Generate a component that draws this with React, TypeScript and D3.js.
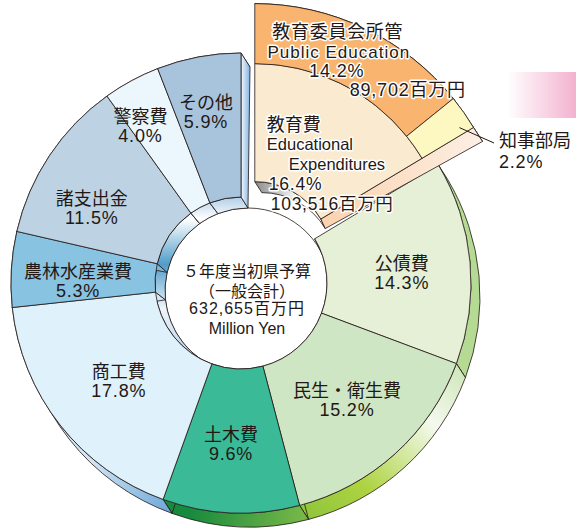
import React from "react";
import * as d3 from "d3";

// ---------- data ----------
const categories = ["教育費", "公債費", "民生・衛生費", "土木費", "商工費", "農林水産業費", "諸支出金", "警察費", "その他"];
const shares = [16.4, 14.3, 15.2, 9.6, 17.8, 5.3, 11.5, 4.0, 5.9];
const eduSubLabels = ["教育委員会所管", "知事部局"];
const eduSubShares = [14.2, 2.2];
const eduSubEnglish = "Public Education";
const eduEnglish = ["Educational", "Expenditures"];
const eduAmount = "103,516百万円";
const eduBoardAmount = "89,702百万円";
const centerLines = ["５年度当初県予算", "（一般会計）", "632,655百万円", "Million Yen"];

// ---------- style / layout ----------
type P = [number, number];
const W = 576, H = 529;
const C: P = [241, 283];
const R_IN = 86, R_OUT = 230;
const D_IN: P = [7, 8];
const D_OUT: P = [9, 14];
const SHRINK_IN = 3;
const EXPLODE = 28;
const E_RIN = 77, E_RMID = 195, E_ROUT = 255;
const INK = "#231815";
const SW = 0.8;

const topColors = ["#faead0", "#e5f0d6", "#cfe6c4", "#3bba98", "#dff1fb", "#88c3e1", "#bdd3e4", "#ebf6fd", "#a8c4dc"];
const rimColors = ["#fcdcc2", "#b4da94", "url(#gMinsei)", "url(#gDoboku)", "url(#gShoko)", "#7fb5d8", "#9fbfd8", "#cfe6f5", "#8fb3d6"];
const subColors = ["#f9b46f", "#fdf8c2"];
const subRimColors = ["#ee9a46", "#efe08c"];
const labelR = [0, 161, 158, 162, 157, 163, 167, 186, 174];
const labelNudgeDeg = [0, 1.8, 0, 1, -0.7, -2.9, -7, -4.3, -1];

const pt = (c: P, r: number, a: number): P => [c[0] + r * Math.sin(a), c[1] - r * Math.cos(a)];
const f = (p: P) => `${p[0].toFixed(2)},${p[1].toFixed(2)}`;
const add = (a: P, b: P): P => [a[0] + b[0], a[1] + b[1]];

function rimPath(c: P, r: number, d: P, rb: number, a0: number, a1: number) {
  const large = a1 - a0 > Math.PI ? 1 : 0;
  const b = add(c, d);
  return `M${f(pt(c, r, a0))}A${r},${r} 0 ${large} 1 ${f(pt(c, r, a1))}L${f(pt(b, rb, a1))}A${rb},${rb} 0 ${large} 0 ${f(pt(b, rb, a0))}Z`;
}
function radialPath(c: P, r0: number, r1: number, a: number) {
  const bi = add(c, D_IN), bo = add(c, D_OUT);
  return `M${f(pt(c, r0, a))}L${f(pt(c, r1, a))}L${f(pt(bo, r1, a))}L${f(pt(bi, r0 - SHRINK_IN, a))}Z`;
}

export default function App() {
  const pie = d3.pie<number>().sort(null).value((d) => d)(shares);
  const arc = d3.arc<any>();
  const ea0 = pie[0].startAngle, ea1 = pie[0].endAngle;
  const emid = (ea0 + ea1) / 2;
  const Ce = pt(C, EXPLODE, emid);
  const span = ea1 - ea0;
  let cum = 0;
  const subs = eduSubShares.map((v, i) => {
    const s0 = ea0 + (cum / shares[0]) * span;
    cum += v;
    const s1 = ea0 + (cum / shares[0]) * span;
    return { s0, s1, i };
  });
  const main = pie.slice(1).map((p, k) => ({ p, i: k + 1 }));

  const lineStart = pt(Ce, E_ROUT - 12, (subs[1].s0 + subs[1].s1) / 2 + 0.04);
  const leaderEnd: P = [494, 143];

  const halo = { stroke: "#fff", strokeWidth: 3, paintOrder: "stroke" as any, strokeLinejoin: "round" as any };

  return (
    <svg width={W} height={H} style={{ position: "fixed", left: 0, top: 0, background: "#fff" }}
      fontFamily="'Liberation Sans','Noto Sans CJK JP',sans-serif">
      <defs>
        <linearGradient id="gHole" gradientUnits="userSpaceOnUse" x1="0" y1="195" x2="0" y2="378">
          <stop offset="0" stopColor="#a9c9e6" />
          <stop offset="0.13" stopColor="#ffffff" />
          <stop offset="0.38" stopColor="#4f9cc9" />
          <stop offset="0.62" stopColor="#eef5fc" />
          <stop offset="1" stopColor="#9fc2e6" />
        </linearGradient>
        <linearGradient id="gSonota" gradientUnits="userSpaceOnUse" x1="241" y1="0" x2="252" y2="0">
          <stop offset="0" stopColor="#f2f8fd" />
          <stop offset="1" stopColor="#6aa2da" />
        </linearGradient>
        <linearGradient id="gMinsei" gradientUnits="userSpaceOnUse" x1="470" y1="340" x2="300" y2="520">
          <stop offset="0" stopColor="#c0e0a4" />
          <stop offset="0.35" stopColor="#f4f9ee" />
          <stop offset="0.72" stopColor="#aed341" />
          <stop offset="1" stopColor="#8cc43a" />
        </linearGradient>
        <linearGradient id="gDoboku" gradientUnits="userSpaceOnUse" x1="305" y1="515" x2="190" y2="505">
          <stop offset="0" stopColor="#78b848" />
          <stop offset="1" stopColor="#188a3e" />
        </linearGradient>
        <linearGradient id="gShoko" gradientUnits="userSpaceOnUse" x1="200" y1="512" x2="90" y2="465">
          <stop offset="0" stopColor="#4f95d2" />
          <stop offset="1" stopColor="#d2e5f4" />
        </linearGradient>
        <linearGradient id="gEduWall" gradientUnits="userSpaceOnUse" x1="255" y1="0" x2="300" y2="0">
          <stop offset="0" stopColor="#8d8d8d" />
          <stop offset="1" stopColor="#ffffff" />
        </linearGradient>
        <linearGradient id="gPeach" gradientUnits="userSpaceOnUse" x1="320" y1="0" x2="475" y2="0">
          <stop offset="0" stopColor="#fbd2ad" />
          <stop offset="1" stopColor="#fdeee2" />
        </linearGradient>
        <linearGradient id="gPink" x1="0" y1="0" x2="1" y2="0">
          <stop offset="0" stopColor="#ffffff" />
          <stop offset="1" stopColor="#f3b2cf" />
        </linearGradient>
      </defs>

      {/* pink band */}
      <rect x={507} y={72} width={69} height={46} fill="url(#gPink)" />

      {/* floor of the hole */}
      <circle cx={C[0] + D_IN[0]} cy={C[1] + D_IN[1]} r={R_IN - SHRINK_IN} fill="#fff" stroke={INK} strokeWidth={SW} />

      {/* main side faces */}
      {main.map(({ p, i }) => (
        <g key={"side" + i} stroke={INK} strokeWidth={SW}>
          <path d={rimPath(C, R_OUT, D_OUT, R_OUT, p.startAngle, p.endAngle)} fill={rimColors[i]} />
          <path d={rimPath(C, R_IN, D_IN, R_IN - SHRINK_IN, p.startAngle, p.endAngle)} fill="url(#gHole)" />
          <path d={radialPath(C, R_IN, R_OUT, p.endAngle)} fill={i === 8 ? "url(#gSonota)" : rimColors[i]} />
        </g>
      ))}

      {/* main top faces */}
      {main.map(({ p, i }) => (
        <path key={"top" + i} transform={`translate(${C[0]},${C[1]})`}
          d={arc({ innerRadius: R_IN, outerRadius: R_OUT, startAngle: p.startAngle, endAngle: p.endAngle }) as string}
          fill={topColors[i]} stroke={INK} strokeWidth={SW} />
      ))}

      {/* exploded education sector: sides */}
      <g stroke={INK} strokeWidth={SW}>
        <path d={rimPath(Ce, E_RIN, D_IN, E_RIN - SHRINK_IN, ea0, ea1)} fill="url(#gEduWall)" />
        {subs.map((s) => (
          <path key={"er" + s.i} d={rimPath(Ce, E_ROUT, D_OUT, E_ROUT, s.s0, s.s1)} fill={subRimColors[s.i]} />
        ))}
        <path d={radialPath(Ce, E_RIN, E_ROUT, ea1)} fill="url(#gPeach)" />
      </g>
      {/* exploded top faces */}
      <g transform={`translate(${Ce[0]},${Ce[1]})`} stroke={INK} strokeWidth={SW}>
        <path d={arc({ innerRadius: E_RIN, outerRadius: E_RMID, startAngle: ea0, endAngle: ea1 }) as string} fill={topColors[0]} />
        {subs.map((s) => (
          <path key={"es" + s.i} d={arc({ innerRadius: E_RMID, outerRadius: E_ROUT, startAngle: s.s0, endAngle: s.s1 }) as string}
            fill={subColors[s.i]} />
        ))}
      </g>

      {/* leader line for 知事部局 */}
      <line x1={lineStart[0]} y1={lineStart[1]} x2={leaderEnd[0]} y2={leaderEnd[1]} stroke={INK} strokeWidth={1} />

      {/* main labels */}
      <g fill={INK} textAnchor="middle" dominantBaseline="central">
        {main.map(({ p, i }) => {
          const a = (p.startAngle + p.endAngle) / 2 + (labelNudgeDeg[i] * Math.PI) / 180;
          const [x, y] = pt(C, labelR[i], a);
          return (
            <g key={"lab" + i}>
              <text x={x} y={y - 9.5} fontSize={18}>{categories[i]}</text>
              <text x={x} y={y + 9.5} fontSize={18} letterSpacing={0.8}>{shares[i].toFixed(1)}%</text>
            </g>
          );
        })}
      </g>

      {/* education labels */}
      <g fill={INK} dominantBaseline="central" {...halo}>
        <text x={Ce[0] + 83} y={Ce[1] - 227} fontSize={18} letterSpacing={0.7} textAnchor="middle">{eduSubLabels[0]}</text>
        <text x={Ce[0] + 84} y={Ce[1] - 206} fontSize={17} letterSpacing={1} textAnchor="middle">{eduSubEnglish}</text>
        <text x={Ce[0] + 82} y={Ce[1] - 188} fontSize={18} letterSpacing={0.8} textAnchor="middle">{eduSubShares[0].toFixed(1)}%</text>
        <text x={Ce[0] + 153} y={Ce[1] - 168.5} fontSize={18} letterSpacing={0.8} textAnchor="middle">{eduBoardAmount}</text>
        <text x={Ce[0] + 12} y={Ce[1] - 134} fontSize={18}>{categories[0]}</text>
        <text x={Ce[0] + 12} y={Ce[1] - 114.5} fontSize={16.5}>{eduEnglish[0]}</text>
        <text x={Ce[0] + 34} y={Ce[1] - 95} fontSize={16.5}>{eduEnglish[1]}</text>
        <text x={Ce[0] + 14} y={Ce[1] - 74.5} fontSize={17.5} letterSpacing={0.8}>{shares[0].toFixed(1)}%</text>
        <text x={Ce[0] + 16} y={Ce[1] - 54.5} fontSize={17.5} letterSpacing={0.7}>{eduAmount}</text>
      </g>
      <g fill={INK} dominantBaseline="central">
        <text x={499} y={141} fontSize={18}>{eduSubLabels[1]}</text>
        <text x={499} y={161.5} fontSize={18} letterSpacing={0.8}>{eduSubShares[1].toFixed(1)}%</text>
      </g>

      {/* center labels */}
      <g fill={INK} textAnchor="middle" dominantBaseline="central">
        <text x={247} y={271} fontSize={16}>{centerLines[0]}</text>
        <text x={247} y={291} fontSize={16}>{centerLines[1]}</text>
        <text x={247} y={308.5} fontSize={16} letterSpacing={1}>{centerLines[2]}</text>
        <text x={247} y={328} fontSize={16}>{centerLines[3]}</text>
      </g>
    </svg>
  );
}
